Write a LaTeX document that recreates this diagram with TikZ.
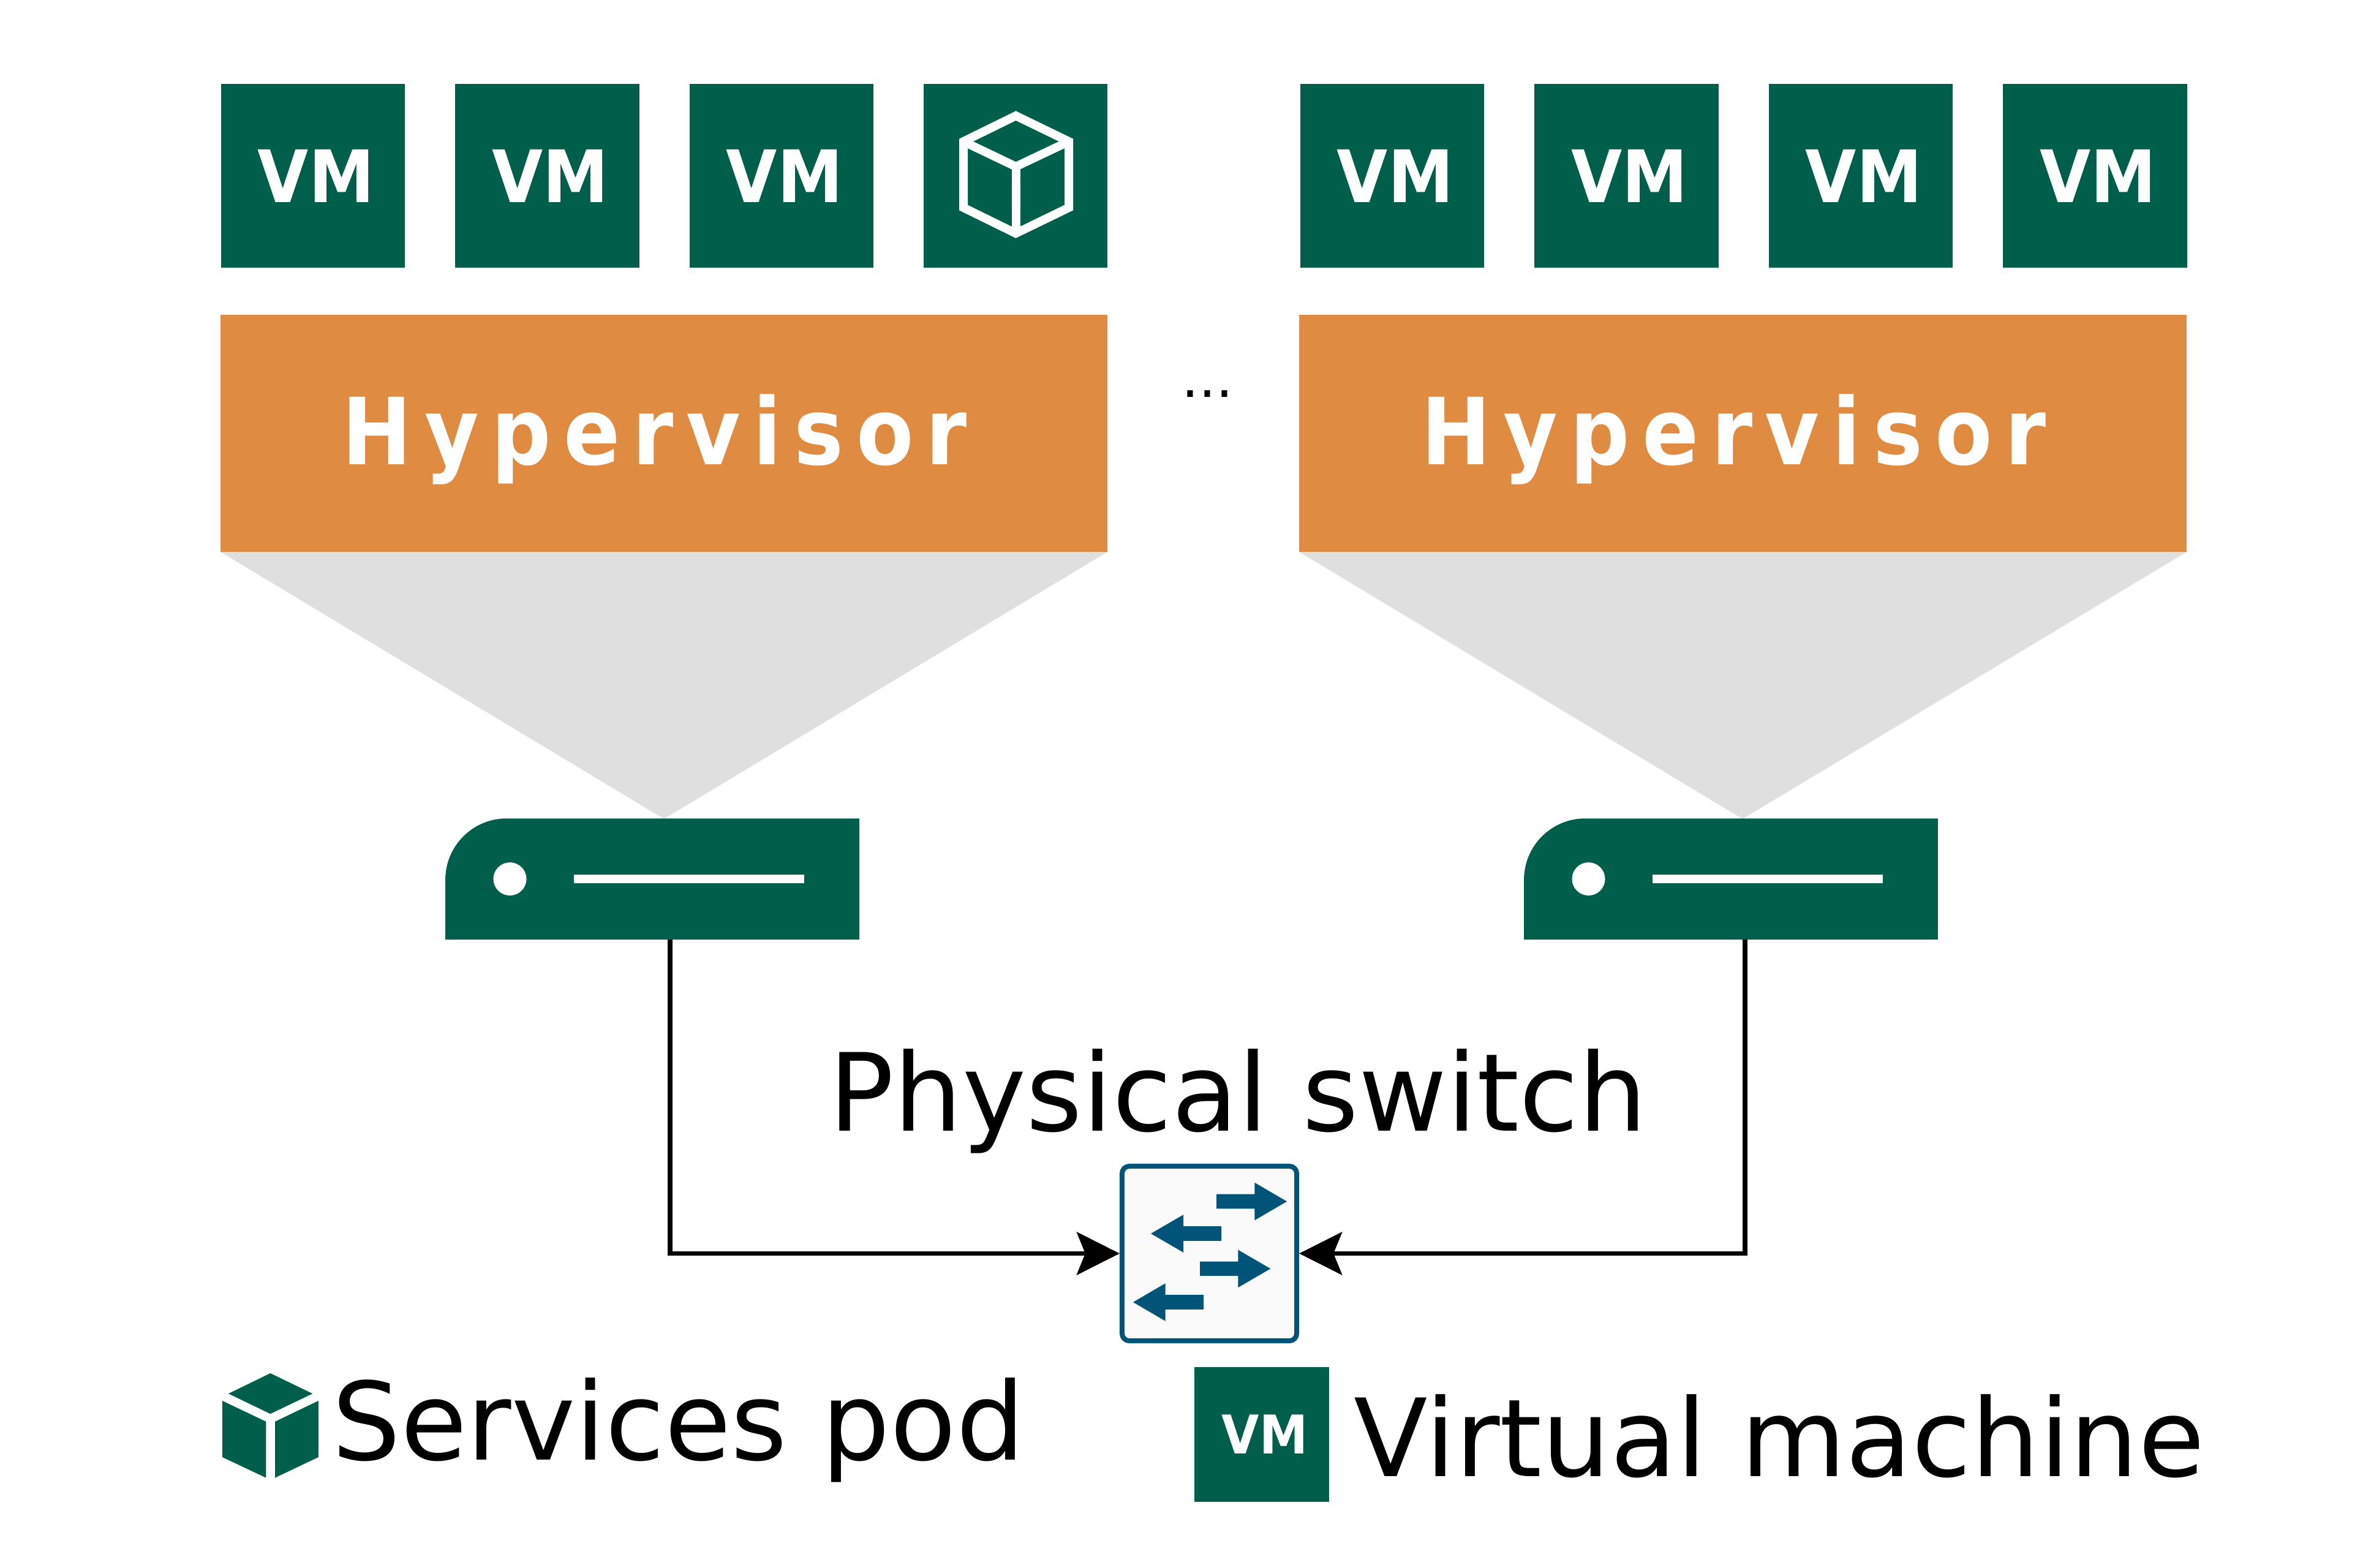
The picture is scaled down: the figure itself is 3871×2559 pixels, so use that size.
\documentclass[tikz,border=0pt]{standalone}
\usepackage{fontspec}
\setmainfont{DejaVu Sans}
\newfontfamily\vmfont[FakeStretch=0.91]{DejaVu Sans Bold}
\newfontfamily\hvfont[FakeStretch=0.9,LetterSpace=13.5]{DejaVu Sans Bold}
\usetikzlibrary{arrows.meta}
\usetikzlibrary{positioning}
\definecolor{podgreen}{RGB}{0,95,75}
\definecolor{hvorange}{RGB}{223,139,65}
\definecolor{conegray}{RGB}{223,223,223}
\definecolor{swblue}{RGB}{0,84,120}
\definecolor{swfill}{RGB}{250,250,250}
\tikzset{
  vmbox/.style={rectangle,inner sep=0pt,fill=podgreen,text=white,minimum width=3cm,minimum height=3cm,font=\vmfont\fontsize{33.6}{40}\selectfont,execute at begin node={\hspace{.1cm}}},
  hvbox/.style={rectangle,inner sep=0pt,fill=hvorange,text=white,minimum width=14.48cm,minimum height=3.87cm,text height=1.36cm,text depth=.34cm,font=\hvfont\fontsize{43}{50}\selectfont,execute at end node={\hspace{.3cm}}},
  srvbox/.style={rectangle,inner sep=0pt,minimum width=6.74cm,minimum height=1.96cm},
  srvled/.style={circle,inner sep=0pt,fill=white,minimum size=.54cm},
  srvbar/.style={rectangle,inner sep=0pt,fill=white,minimum width=3.76cm,minimum height=.135cm},
  cube/.style={draw=white,line width=.14cm,miter limit=10},
  link/.style={draw=black,line width=.075cm,-{Stealth[length=.7cm,width=.7cm,inset=.14cm]}},
  bigtext/.style={inner sep=0pt,font=\fontsize{50.1}{60}\selectfont},
}
\begin{document}
\begin{tikzpicture}[x=0.01cm,y=-0.01cm]
	\useasboundingbox (0,0) rectangle (3871,2559);
	%CONES
	\fill[conegray] (360,901) -- (1808,901) -- (1084,1337) -- cycle;
	\fill[conegray] (2121,901) -- (3570,901) -- (2845,1337) -- cycle;
	%HOST 1 VMS
	\node [vmbox] (VM11) at (511,287) {VM};
	\node [vmbox] (VM12) at (893.5,287) {VM};
	\node [vmbox] (VM13) at (1276,287) {VM};
	\node [vmbox] (VM14) at (1658,287) {};
	  %POD ICON
	  \draw[cube] (1658.5,189) -- (1745,231) -- (1745,339) -- (1658.5,381) -- (1573,339) -- (1573,231) -- cycle;
	  \draw[cube] (1573,231) -- (1658.5,272) -- (1745,231);
	  \draw[cube] (1658.5,272) -- (1658.5,381);
	%HOST 2 VMS
	\node [vmbox] (VM21) at (2273,287) {VM};
	\node [vmbox] (VM22) at (2655.5,287) {VM};
	\node [vmbox] (VM23) at (3038,287) {VM};
	\node [vmbox] (VM24) at (3420.5,287) {VM};
	%HYPERVISORS
	\node [hvbox] (H1) at (1084,707.5) {Hypervisor};
	\node [hvbox] (H2) at (2845.5,707.5) {Hypervisor};
	\node [anchor=base,inner sep=0pt,font=\fontsize{25}{30}\selectfont] (dots) at (1971,648) {...};
	%SERVER 1
	\node [srvbox] (S1) at (1065,1435) {};
	  \fill[podgreen] (S1.south west) [rounded corners=1cm] -- (S1.north west) [sharp corners] -- (S1.north east) -- (S1.south east) -- cycle;
	  \node [srvled] (LED1) at (832.5,1435) {};
	  \node [srvbar] (BAR1) at (1125,1435) {};
	%SERVER 2
	\node [srvbox] (S2) at (2826,1435) {};
	  \fill[podgreen] (S2.south west) [rounded corners=1cm] -- (S2.north west) [sharp corners] -- (S2.north east) -- (S2.south east) -- cycle;
	  \node [srvled] (LED2) at (2593.5,1435) {};
	  \node [srvbar] (BAR2) at (2886,1435) {};
	%SWITCH
	\node [rectangle,inner sep=0pt,draw=swblue,fill=swfill,line width=.08cm,rounded corners=.12cm,minimum size=2.85cm] (SW) at (1974.5,2046.5) {};
	  \fill[swblue] (1986,1949.7) -- (2048.3,1949.7) -- (2048.3,1930.7) -- (2101,1961.5) -- (2048.3,1992.3) -- (2048.3,1973.3) -- (1986,1973.3) -- cycle;
	  \fill[swblue] (1994,2002.2) -- (1932,2002.2) -- (1932,1983.2) -- (1879,2014) -- (1932,2044.8) -- (1932,2025.8) -- (1994,2025.8) -- cycle;
	  \fill[swblue] (1959,2059.5) -- (2021.3,2059.5) -- (2021.3,2040.5) -- (2074.3,2071.3) -- (2021.3,2102.1) -- (2021.3,2083.1) -- (1959,2083.1) -- cycle;
	  \fill[swblue] (1965,2114.2) -- (1902.7,2114.2) -- (1902.7,2095.2) -- (1850,2126) -- (1902.7,2156.8) -- (1902.7,2137.8) -- (1965,2137.8) -- cycle;
	\node [bigtext,anchor=base west] (SWtxt) at (1353,1846) {Physical switch};
	%LINKS
	\draw[link] ([xshift=.29cm]S1.south) |- (SW.west);
	\draw[link] ([xshift=.23cm]S2.south) |- (SW.east);
	%LEGEND
	\fill[podgreen] (441.4,2242) -- (510.3,2275.3) -- (441.4,2308.3) -- (373,2275.3) -- cycle;
	\fill[podgreen] (363,2287) -- (434.4,2321) -- (434.4,2412.7) -- (363,2379) -- cycle;
	\fill[podgreen] (519.8,2287) -- (449,2321) -- (449,2412.7) -- (519.8,2379) -- cycle;
	\node [bigtext,anchor=base west] (PODtxt) at (542,2383) {Services pod};
	\node [vmbox,minimum width=2.2cm,minimum height=2.2cm,font=\vmfont\fontsize{24.8}{30}\selectfont] (VM0) at (2060,2342) {VM};
	\node [bigtext,anchor=base west] (VMtxt) at (2210,2410) {Virtual machine};
\end{tikzpicture}
\end{document}
